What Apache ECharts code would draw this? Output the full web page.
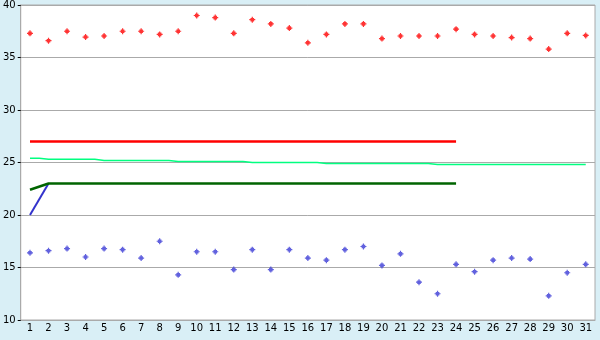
<!DOCTYPE html>
<html>
<head>
<meta charset="utf-8">
<script src="https://cdn.jsdelivr.net/npm/echarts@6/dist/echarts.min.js"></script>
<style>
html,body{margin:0;padding:0;background:#D9EFF6;}
#c{width:600px;height:340px;}
</style>
</head>
<body>
<div id="c"></div>
<script>
const categories = ['1','2','3','4','5','6','7','8','9','10','11','12','13','14','15','16','17','18','19','20','21','22','23','24','25','26','27','28','29','30','31'];
const highPoints = [37.3,36.6,37.5,36.95,37.05,37.5,37.5,37.2,37.5,39.0,38.8,37.3,38.6,38.2,37.8,36.4,37.2,38.2,38.2,36.8,37.05,37.05,37.05,37.7,37.2,37.05,36.9,36.8,35.8,37.3,37.1];
const lowPoints = [16.4,16.6,16.8,16.0,16.8,16.7,15.9,17.5,14.3,16.5,16.5,14.8,16.7,14.8,16.7,15.9,15.7,16.7,17.0,15.2,16.3,13.6,12.5,15.3,14.6,15.7,15.9,15.8,12.3,14.5,15.3];
const redLine = [27,27,27,27,27,27,27,27,27,27,27,27,27,27,27,27,27,27,27,27,27,27,27,27];
const stepLine = [25.4,25.3,25.3,25.3,25.2,25.2,25.2,25.2,25.1,25.1,25.1,25.1,25.0,25.0,25.0,25.0,24.9,24.9,24.9,24.9,24.9,24.9,24.8,24.8,24.8,24.8,24.8,24.8,24.8,24.8,24.8];
const blueLine = [20,23];
const darkGreenLine = [22.4,23,23,23,23,23,23,23,23,23,23,23,23,23,23,23,23,23,23,23,23,23,23,23];
const yTicks = {min:10, max:40, interval:5};

const markerPath = 'path://M2,0H3V1H4V2H5V3H4V4H3V5H2V4H1V3H0V2H1V1H2Z';
const font = {fontFamily:'DejaVu Sans', fontSize:10, color:'#000'};

const chart = echarts.init(document.getElementById('c'), null, {renderer:'canvas'});
chart.setOption({
  animation:false,
  backgroundColor:'#D9EFF6',
  grid:{left:20,right:5,top:5,bottom:20,show:true,backgroundColor:'#fff',borderColor:'#AAAAAA',borderWidth:1},
  xAxis:{
    type:'category', data:categories, boundaryGap:true,
    axisLine:{lineStyle:{color:'#AAAAAA',width:1}},
    axisTick:{alignWithLabel:true,length:5,lineStyle:{color:'#000'}},
    axisLabel:Object.assign({margin:3,interval:0},font),
    splitLine:{show:false}
  },
  yAxis:{
    type:'value', min:yTicks.min, max:yTicks.max, interval:yTicks.interval,
    axisLine:{show:true,lineStyle:{color:'#AAAAAA',width:1}},
    axisTick:{show:true,length:3,lineStyle:{color:'#000'}},
    axisLabel:Object.assign({margin:5},font),
    splitLine:{show:true,lineStyle:{color:'#AAAAAA',width:1}}
  },
  series:[
    {type:'line',data:stepLine,step:'middle',symbol:'none',lineStyle:{color:'#00FF80',width:1.5},z:2},
    {type:'line',data:redLine,symbol:'none',lineStyle:{color:'#FF0000',width:2.5},z:3},
    {type:'line',data:blueLine,symbol:'none',lineStyle:{color:'#3333CC',width:2},z:3},
    {type:'line',data:darkGreenLine,symbol:'none',lineStyle:{color:'#006400',width:2.5},z:4},
    {type:'scatter',data:highPoints,symbol:markerPath,symbolSize:6,itemStyle:{color:'#FF0000'},z:5},
    {type:'scatter',data:lowPoints,symbol:markerPath,symbolSize:6,itemStyle:{color:'#3A3AD6'},z:5}
  ]
});
</script>
</body>
</html>
